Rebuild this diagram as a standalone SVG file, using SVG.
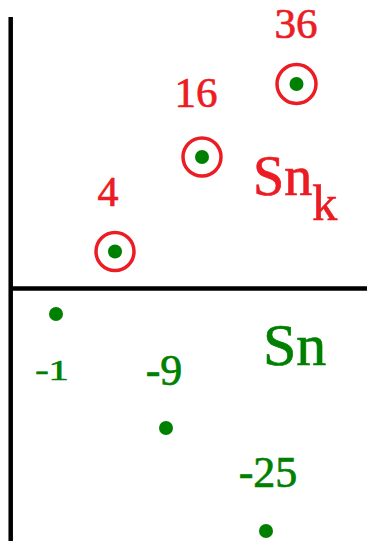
<svg xmlns="http://www.w3.org/2000/svg" width="367" height="541" viewBox="0 0 367 541">
<style>
.axis{stroke:#000;stroke-width:4.5;fill:none}
.ring{fill:none;stroke:#ec1c24;stroke-width:3.5}
.dot{fill:#008000}
.red{fill:#ec1c24;stroke:#ec1c24;stroke-width:0.7;font-family:"Liberation Serif","DejaVu Serif",serif}
.grn{fill:#008000;stroke:#008000;stroke-width:0.7;font-family:"Liberation Serif","DejaVu Serif",serif}
</style>
<rect width="367" height="541" fill="#fff"/>
<g id="axes">
<line class="axis" x1="10.7" y1="17" x2="10.7" y2="541"/>
<line class="axis" x1="9" y1="288.5" x2="367" y2="288.5"/>
</g>
<g id="p4">
<circle class="ring" cx="115" cy="251.5" r="19"/>
<circle class="dot" cx="115" cy="251.5" r="7"/>
<text class="red" x="108" y="206" font-size="42" text-anchor="middle">4</text>
</g>
<g id="p16">
<circle class="ring" cx="202" cy="157" r="19"/>
<circle class="dot" cx="202" cy="157" r="7"/>
<text class="red" x="196" y="107" font-size="43" text-anchor="middle">16</text>
</g>
<g id="p36">
<circle class="ring" cx="296.5" cy="84" r="19.5"/>
<circle class="dot" cx="296.5" cy="84" r="7"/>
<text class="red" x="296" y="38" font-size="43" text-anchor="middle">36</text>
</g>
<g id="label-snk">
<text class="red" x="253" y="195" font-size="56">Sn<tspan dy="25" font-size="50">k</tspan></text>
</g>
<g id="pm1">
<circle class="dot" cx="56" cy="314" r="7"/>
<text class="grn" transform="translate(52,380) scale(1.35,1)" font-size="30" text-anchor="middle">-1</text>
</g>
<g id="pm9">
<circle class="dot" cx="166" cy="428" r="7"/>
<text class="grn" x="164" y="385" font-size="44" text-anchor="middle">-9</text>
</g>
<g id="pm25">
<circle class="dot" cx="266" cy="531" r="7"/>
<text class="grn" x="268" y="487" font-size="44" text-anchor="middle">-25</text>
</g>
<g id="label-sn">
<text class="grn" x="263" y="365" font-size="60">Sn</text>
</g>
</svg>
